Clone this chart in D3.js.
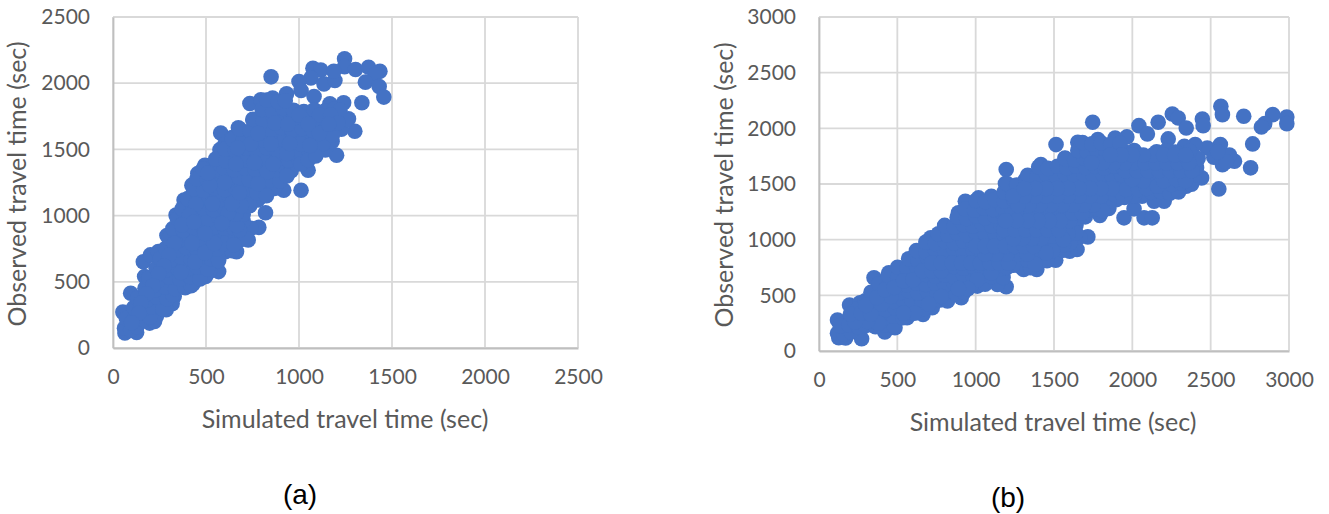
<!DOCTYPE html>
<html><head><meta charset="utf-8">
<script src="https://cdn.jsdelivr.net/npm/d3@7"></script>
<style>html,body{margin:0;padding:0;background:#fff}svg{display:block}
text{font-family:Lato,sans-serif}</style></head><body>
<svg id="c" width="1329" height="514"></svg>
<script>
const ticksA = [0,500,1000,1500,2000,2500];
const ticksB = [0,500,1000,1500,2000,2500,3000];
const xTitle = "Simulated travel time (sec)";
const yTitle = "Observed travel time (sec)";
const pointsA = [
[1245,2185],[1245,2125],[1075,2113],[1117,2100],[1064,2040],[1134,1995],[1193,2020],[1187,2090],[1304,2103],[1374,2120],[1435,2090],[1410,2065],[1357,2008],[1431,1975],[1456,1895],[1338,1852],[850,2048],[1000,2013],[1011,1945],[1081,1900],[1240,1852],[1166,1845],[736,1847],[795,1875],[858,1888],[933,1920],[579,1624],[674,1664],[575,1498],[753,1720],[975,1790],[1202,1456],[1300,1637],[1266,1732],[1219,1670],[1049,1343],[1011,1192],[918,1192],[859,1217],[820,1022],[784,911],[742,904],[727,816],[664,728],[604,728],[568,577],[519,577],[430,484],[329,389],[318,334],[233,238],[197,188],[127,118],[64,113],[53,271],[95,414],[163,652],[201,703],
[170,540],[244,728],[290,850],[339,1004],[382,1117],[424,1230],[456,1318],[494,1380],[551,1393],[604,1544],[640,1590],[223,200],[286,289],[498,540],[551,665],[668,866],[700,960],[795,1142],
[62,150],[95,135],[128,160],[72,222],[120,240],[165,215],[198,232],[112,305],[160,290],[212,310],[268,296],[132,378],[182,362],[238,385],[292,370],[322,402],[172,452],[226,438],[280,460],[336,445],[388,455],[420,470],[192,528],[248,515],[304,535],[360,520],[415,538],[468,522],[232,602],[285,590],[342,610],[398,596],[452,612],[508,598],
[254,676],[310,665],[366,685],[420,670],[476,688],[530,672],[568,660],[282,752],[338,740],[394,760],[450,745],[506,762],[560,748],[612,758],[640,735],[302,828],[356,815],[412,835],[468,820],[524,838],[580,822],[636,835],[690,820],[718,826],
[322,902],[378,890],[434,910],[490,895],[546,912],[602,898],[650,905],[680,892],[346,978],[400,965],[456,985],[512,970],[568,988],[624,972],[372,1052],[428,1040],[484,1060],[540,1045],[596,1062],[648,1048],[402,1128],[458,1115],[514,1135],[570,1120],[626,1138],[682,1122],[738,1130],[778,1118],
[432,1202],[488,1190],[544,1210],[600,1195],[656,1212],[712,1198],[768,1208],[824,1195],[868,1205],[452,1278],[508,1265],[564,1285],[620,1270],[676,1288],[732,1272],[788,1282],[844,1268],[898,1262],[484,1352],[540,1340],[596,1360],[652,1345],[708,1362],[764,1348],[820,1358],[876,1342],[932,1350],[958,1338],
[552,1428],[608,1415],[664,1435],[720,1420],[776,1438],[832,1422],[888,1432],[944,1418],[998,1425],[602,1502],[658,1490],[714,1510],[770,1495],[826,1512],[882,1498],[938,1508],[996,1492],[1052,1490],[1108,1510],[1142,1495],[642,1578],[698,1565],[754,1585],[810,1570],[866,1588],[922,1572],[978,1582],[1034,1568],[1090,1585],[1146,1570],[1178,1560],
[682,1652],[738,1640],[794,1660],[850,1645],[906,1662],[962,1648],[1018,1658],[1074,1642],[1130,1660],[1186,1645],[1228,1652],[752,1728],[808,1715],[864,1735],[920,1720],[976,1738],[1032,1722],[1088,1732],[1144,1718],[1200,1735],[1252,1722],[802,1802],[858,1790],[914,1810],[970,1795],[1026,1785],[1082,1800],[1138,1790],[1190,1805],[1220,1795],[826,1872],[888,1860],[926,1868],
[665,925],[700,1010],[660,1010],[620,1020],[735,1075],[690,1075],[640,1090],[585,940],[535,1090],[445,1085],[410,1000],[370,930],[330,790],[300,700],[275,620],[245,560],[215,470],[180,410],[150,340],[140,265],[100,190],[365,570],[440,650],[425,790],[495,720],[600,790],[650,780],[545,790],[495,865],[435,950],[775,1170],[825,1150],[935,1300],[1010,1390],[1050,1420],[1090,1450],[1130,1545],[1180,1610],[1010,1540],[1060,1530],[830,1330],[780,1240],[680,1170],[600,1250],[520,1230],[510,1320],[660,1390],[760,1400],[860,1390],[935,1470],[950,1545],[850,1540],[740,1540],[670,1510],[780,1620],[870,1700],[940,1690],[1000,1760],[1110,1760],[1170,1760],[1050,1690],[1110,1620],[1210,1700],[1160,1690]
];
const pointsB = [
[2565,2198],[2575,2123],[2711,2108],[2896,2123],[2986,2102],[2986,2042],[2845,2042],[2824,2012],[2447,2084],[2452,2024],[2255,2129],[2293,2093],[2344,2003],[2165,2054],[2042,2024],[2096,1950],[2229,1905],[1747,2054],[1513,1854],[2768,1860],[2755,1645],[2552,1456],[2442,1555],[2652,1704],[2575,1674],[2562,1854],[2478,1824],[2401,1854],[2332,1839],[1965,1923],[1890,1913],[1780,1899],[1652,1875],[1570,1734],[1416,1674],[1318,1540],[1195,1630],[1190,1504],[1018,1375],[1100,1390],[934,1345],[890,1241],[805,1121],[713,1017],[634,897],[446,703],[351,658],[195,413],[262,434],[118,278],[126,120],[170,118],[272,111],[420,170],[485,209],[562,299],[664,329],[723,389],[908,478],[1011,583],[1195,577],[1139,598],[1306,733],[1390,733],[1511,816],[1647,912],[1600,897],[1716,1025],[1665,1023],[1793,1217],[1947,1196],[2075,1196],[2127,1196],[2011,1277],[2203,1345],[2139,1345],[2062,1390],[1998,1420],[2344,1480],[2267,1450],[2620,1760],[2520,1740],[2600,1700],[2545,1790],
[118,160],[160,150],[205,170],[135,228],[190,235],[250,215],[300,230],[360,218],[420,235],[480,225],[235,302],[295,290],[355,310],[415,296],[475,312],[535,298],[245,378],[305,365],[365,385],[425,370],[485,388],[545,372],[605,385],[665,378],[295,452],[355,440],[415,460],[475,445],[535,462],[595,448],[655,460],[715,446],[775,458],[820,450],
[332,528],[392,515],[452,535],[512,520],[572,538],[632,522],[692,535],[752,520],[812,532],[872,518],[925,528],[382,602],[442,590],[502,610],[562,595],[622,612],[682,598],[742,608],[802,594],[862,610],[922,596],[982,605],[1060,600],[442,678],[502,665],[562,685],[622,670],[682,688],[742,672],[802,682],[862,668],[922,685],[982,670],[1042,680],[1102,668],[1175,660],
[502,752],[562,740],[622,760],[682,745],[742,762],[802,748],[862,758],[922,744],[982,760],[1042,746],[1102,756],[1162,742],[1200,750],[1290,755],[1350,748],[572,828],[632,815],[692,835],[752,820],[812,838],[872,822],[932,832],[992,818],[1052,835],[1112,820],[1172,830],[1232,816],[1262,826],[1330,815],[1400,825],[1455,810],
[622,902],[682,890],[742,910],[802,895],[862,912],[922,898],[982,908],[1042,894],[1102,910],[1162,896],[1222,906],[1282,892],[1342,908],[1402,895],[1560,905],[682,978],[742,965],[802,985],[862,970],[922,988],[982,972],[1042,982],[1102,968],[1162,985],[1222,970],[1282,980],[1342,966],[1402,982],[1460,970],[1600,965],[1560,955],
[762,1052],[822,1040],[882,1060],[942,1045],[1002,1062],[1062,1048],[1122,1058],[1182,1044],[1242,1060],[1302,1046],[1362,1056],[1422,1042],[1482,1058],[1540,1045],[802,1128],[862,1115],[922,1135],[982,1120],[1042,1138],[1102,1122],[1162,1132],[1222,1118],[1282,1135],[1342,1120],[1402,1130],[1462,1116],[1522,1132],[1582,1118],[1640,1128],
[882,1202],[942,1190],[1002,1210],[1062,1195],[1122,1212],[1182,1198],[1242,1208],[1302,1194],[1362,1210],[1422,1196],[1482,1206],[1542,1192],[1602,1208],[1662,1195],[1700,1205],[932,1278],[992,1265],[1052,1285],[1112,1270],[1172,1288],[1232,1272],[1292,1282],[1352,1268],[1412,1285],[1472,1270],[1532,1280],[1592,1266],[1652,1282],[1712,1268],[1772,1278],
[1002,1352],[1062,1340],[1122,1360],[1182,1345],[1242,1362],[1302,1348],[1362,1358],[1422,1344],[1482,1360],[1542,1346],[1602,1356],[1662,1342],[1722,1358],[1782,1345],[1182,1428],[1242,1415],[1302,1435],[1362,1420],[1422,1438],[1482,1422],[1542,1432],[1602,1418],[1662,1435],[1722,1420],[1782,1430],[1842,1416],[1895,1428],[2120,1425],[2180,1432],[2240,1418],[2295,1428],
[1202,1502],[1262,1490],[1322,1510],[1382,1495],[1442,1512],[1502,1498],[1562,1508],[1622,1494],[1682,1510],[1742,1496],[1802,1506],[1862,1492],[1922,1508],[1982,1494],[2045,1505],[2125,1505],[2250,1495],[2310,1510],[2378,1498],[1332,1578],[1392,1565],[1452,1585],[1512,1570],[1572,1588],[1632,1572],[1692,1582],[1752,1568],[1812,1585],[1872,1570],[1932,1580],[1992,1566],[2052,1582],[2112,1570],[2172,1590],[2232,1575],[2292,1585],[2352,1570],[2396,1580],
[1402,1652],[1462,1640],[1522,1660],[1582,1645],[1642,1662],[1702,1648],[1762,1658],[1822,1644],[1882,1660],[1942,1646],[2002,1656],[2062,1642],[2122,1660],[2182,1645],[2242,1655],[2302,1641],[2362,1658],[2410,1645],[1572,1728],[1632,1715],[1692,1735],[1752,1720],[1812,1738],[1872,1722],[1932,1732],[1992,1718],[2052,1735],[2112,1720],[2172,1730],[2232,1716],[2292,1732],[2352,1718],[2420,1728],[1652,1802],[1712,1790],[1772,1810],[1832,1795],[1892,1805],[1952,1790],[2012,1800],[2155,1790],[2215,1800],[2275,1788],[2365,1795],[1682,1872],[1742,1860],[1802,1868],[1862,1855],[1920,1865],
[2010,1390],[1950,1380],[1900,1360],[1850,1340],[1960,1450],[2040,1450],[2090,1460],[2160,1480],[2200,1530],[2280,1540],[2340,1530],[2070,1530],[2000,1540],[1850,1280],[1810,1260],[1640,1060],[1590,1050],[1500,1000],[1560,1000],[1490,900],[1450,880],[1380,780],[1240,770],[1100,700],[1010,640],[950,560],[890,560],[780,490],[700,420],[610,340],[540,340],[380,250],[310,265],[230,260],[200,330],[270,340],[330,330],[300,410],[400,420],[460,490],[370,480],[420,550],[480,570],[540,630],[600,640],[660,720],[720,720],[780,720],[720,790],[780,790],[850,790],[910,790],[970,790],[1030,790],[1090,790],[1150,790],[1210,790],[1270,870],[1330,870],[1200,870],[1130,870],[1060,870],[1000,940],[1060,940],[1120,940],[1190,940],[1250,940],[1310,940],[1370,940],[1420,1010],[1360,1010],[1300,1010],[1240,1010],[1180,1090],[1250,1090],[1320,1090],[1390,1090],[1460,1090],[1530,1090],[1600,1170],[1540,1170],[1470,1170],[1400,1170],[1330,1170],[1260,1170],[1190,1170],[1620,1240],[1680,1240],[1750,1310],[1690,1310],[1620,1310],[1550,1310],[1480,1310],[1410,1310],[1340,1310],[1270,1310],[1800,1390],[1730,1390],[1660,1390],[1590,1390],[1520,1390],[1450,1390],[1380,1390],[1310,1390],[1240,1390],[1870,1460],[1800,1460],[1730,1460],[1660,1460],[1590,1460],[1520,1460],[1450,1460],[1380,1460],[1310,1460],[1960,1620],[2030,1620],[2100,1620],[2170,1620],[2240,1620],[2310,1620],[2380,1620],[2010,1690],[2080,1690],[2150,1690],[2220,1690],[2290,1690],[2360,1690],[1950,1690],[1880,1690],[1810,1690],[1740,1690],[2130,1760],[2200,1760],[2270,1760],[2340,1760],[2070,1760],[2000,1760],[1930,1760],[1860,1760]
];
const dotColor = "#4472c4", gridColor = "#d9d9d9", textColor = "#595959";
const svg = d3.select("#c");
function panel(cfg){
  const x = d3.scaleLinear().domain(cfg.domain).range(cfg.xr);
  const y = d3.scaleLinear().domain(cfg.domain).range(cfg.yr);
  const g = svg.append("g");
  g.append("g").selectAll("line").data(cfg.ticks).join("line")
    .attr("x1",d=>x(d)).attr("x2",d=>x(d)).attr("y1",cfg.yr[0]).attr("y2",cfg.yr[1])
    .attr("stroke",gridColor).attr("stroke-width",1.8);
  g.append("g").selectAll("line").data(cfg.ticks).join("line")
    .attr("y1",d=>y(d)).attr("y2",d=>y(d)).attr("x1",cfg.xr[0]).attr("x2",cfg.xr[1])
    .attr("stroke",gridColor).attr("stroke-width",1.8);
  const ax = g.append("g").attr("transform",`translate(0,${cfg.yr[0]})`)
    .call(d3.axisBottom(x).tickValues(cfg.ticks).tickSize(0).tickPadding(21).tickFormat(d3.format("d")));
  const ay = g.append("g").attr("transform",`translate(${cfg.xr[0]},0)`)
    .call(d3.axisLeft(y).tickValues(cfg.ticks).tickSize(0).tickPadding(23).tickFormat(d3.format("d")));
  [ax,ay].forEach(a=>{a.select(".domain").attr("stroke","#bfbfbf").attr("stroke-width",1.8);
    a.selectAll("text").attr("fill",textColor).style("font-size","21px").style("font-family","Lato,sans-serif");});
  g.append("g").selectAll("circle").data(cfg.points).join("circle")
    .attr("cx",d=>x(d[0])).attr("cy",d=>y(d[1])).attr("r",7.8).attr("fill",dotColor);
  g.append("text").attr("x",cfg.xtPos[0]).attr("y",cfg.xtPos[1]).attr("text-anchor","middle")
    .attr("fill",textColor).style("font-size","25px").text(xTitle);
  g.append("text").attr("transform",`translate(${cfg.ytPos[0]},${cfg.ytPos[1]}) rotate(-90)`).attr("text-anchor","middle")
    .attr("fill",textColor).style("font-size","25px").text(yTitle);
  g.append("text").attr("x",cfg.lab[0]).attr("y",cfg.lab[1]).attr("text-anchor","middle")
    .attr("fill","#000").style("font-family","'Liberation Sans',sans-serif").style("font-size","28px").text(cfg.label);
}
panel({domain:[0,2500],ticks:ticksA,xr:[113,578],yr:[348,17],points:pointsA,xtPos:[345,428],ytPos:[26,184],lab:[300,504],label:"(a)"});
panel({domain:[0,3000],ticks:ticksB,xr:[819,1289],yr:[351,17],points:pointsB,xtPos:[1053,431],ytPos:[733,185],lab:[1008,507],label:"(b)"});
</script></body></html>
